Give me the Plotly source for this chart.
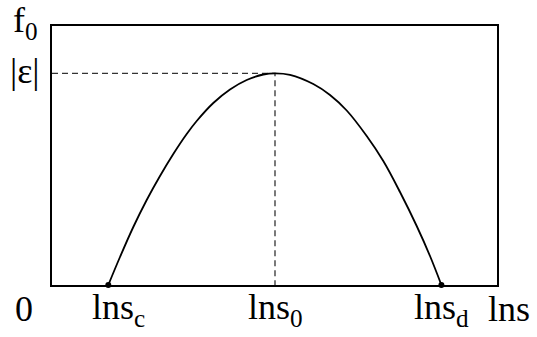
import plotly.graph_objects as go

# Curve (x: position along ln s, y: f0)
curve_x = [56.3, 68, 81.3, 94.7, 108, 121.3, 134.7, 144.7, 161.3, 178, 194.7, 211.3, 223,
           238, 261.3, 278, 294.7, 314.7, 331.3, 348, 364.7, 378, 389.4]
curve_y = [0, 28, 58, 85, 109, 131, 151, 164, 182, 195.5, 205, 210.5, 211.7,
           210.2, 201, 190, 174.5, 149, 124, 93, 59, 29, 0]

# Key points
end_x = [56.3, 389.4]
end_y = [0, 0]
peak_x = 223
peak_y = 211.7

X_MAX = 445
Y_MAX = 259

x_labels = ["0", "lns<sub>c</sub>", "lns<sub>0</sub>", "lns<sub>d</sub>", "lns"]
x_label_pos = [-28, 66, 223, 389, 457]
y_labels = ["f<sub>0</sub>", "|ε|"]
y_label_pos = [263, 214]

FONT = "Liberation Serif"
FS = 36

fig = go.Figure()
# dashed guides
fig.add_trace(go.Scatter(x=[0, peak_x, peak_x], y=[peak_y, peak_y, 0], mode="lines",
                         line=dict(color="#333333", width=1.3, dash="6px,4px"),
                         hoverinfo="skip", showlegend=False))
fig.add_trace(go.Scatter(x=curve_x, y=curve_y, mode="lines",
                         line=dict(color="black", width=1.8, shape="spline", smoothing=1.0),
                         showlegend=False))
fig.add_trace(go.Scatter(x=end_x, y=end_y, mode="markers",
                         marker=dict(color="black", size=6, symbol="circle"),
                         cliponaxis=False, showlegend=False))

annotations = []
for t, xv in zip(x_labels, x_label_pos):
    annotations.append(dict(x=xv / X_MAX, y=-24 / Y_MAX, xref="paper", yref="paper",
                            text=t, showarrow=False, xanchor="center", yanchor="middle",
                            font=dict(family=FONT, size=FS, color="black")))
for t, yv in zip(y_labels, y_label_pos):
    annotations.append(dict(x=-27 / X_MAX, y=yv / Y_MAX, xref="paper", yref="paper",
                            text=t, showarrow=False, xanchor="center", yanchor="middle",
                            font=dict(family=FONT, size=FS, color="black")))

fig.update_layout(
    width=537, height=337,
    margin=dict(l=52, r=40, t=26, b=52),
    paper_bgcolor="white", plot_bgcolor="white",
    font=dict(family=FONT, size=FS, color="black"),
    annotations=annotations,
    xaxis=dict(range=[0, X_MAX], showgrid=False, zeroline=False, showticklabels=False,
               ticks="", showline=True, linecolor="black", linewidth=1.5, mirror=True),
    yaxis=dict(range=[0, Y_MAX], showgrid=False, zeroline=False, showticklabels=False,
               ticks="", showline=True, linecolor="black", linewidth=1.5, mirror=True),
)
fig.write_html("out.html", config={"displayModeBar": False},
               post_script="document.body.style.margin='0';document.body.style.padding='0';")
